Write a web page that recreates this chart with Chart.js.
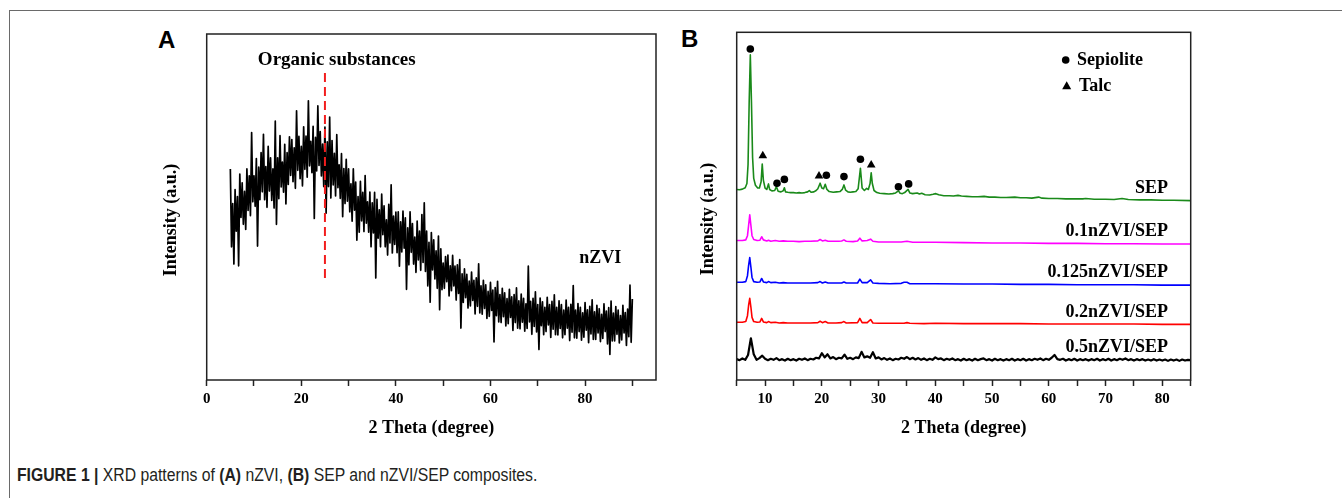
<!DOCTYPE html>
<html>
<head>
<meta charset="utf-8">
<script src="https://cdn.jsdelivr.net/npm/chart.js@4.4.1/dist/chart.umd.min.js"></script>
<style>
  html, body { margin: 0; padding: 0; background: #fff; }
  #page { position: relative; width: 1342px; height: 498px; overflow: hidden; background: #fff; }
  #frame { position: absolute; left: 9px; top: 10px; right: -2px; bottom: -2px;
           border-top: 1px solid #6a6a6a; border-left: 1px solid #6a6a6a; }
  .panel { position: absolute; font: bold 24px "Liberation Sans", Arial, sans-serif; line-height: 24px; color: #000; }
  .wrap { position: absolute; top: 20px; width: 530px; height: 430px; }
  #caption { position: absolute; left: 17px; top: 466px; font: 17.5px "Liberation Sans", Arial, sans-serif;
             line-height: 18px; white-space: nowrap; color: #231f20;
             transform: scaleX(0.9); transform-origin: 0 0; }
</style>
</head>
<body>
<div id="page">
  <div id="frame"></div>
  <div class="panel" style="left:158px; top:28px;">A</div>
  <div class="panel" style="left:681px; top:27px;">B</div>
  <div class="wrap" style="left:140px;"><canvas id="chartA" width="530" height="430"></canvas></div>
  <div class="wrap" style="left:680px;"><canvas id="chartB" width="530" height="430"></canvas></div>
  <div id="caption"><b>FIGURE 1 |</b> XRD patterns of <b>(A)</b> nZVI, <b>(B)</b> SEP and nZVI/SEP composites.</div>
</div>

<script>
// ---- Panel A: nZVI, scan 5-90 deg, 0.25 deg step (a.u.)
const thetaStartA = 5;
const thetaStepA = 0.25;
const nzviCounts = [
  610, 385, 510, 335,  550, 430, 530, 330,  595, 470, 570, 450,  545, 435, 610, 490,
  590, 475, 715, 515,  590, 502, 640, 387,  615, 521, 657, 544,  710, 521, 617, 499,
  675, 546, 642, 519,  610, 497, 748, 450,  642, 524, 706, 558,  630, 543, 681, 509,
  657, 565, 703, 591,  695, 573, 671, 554,  778, 606, 704, 582,  675, 561, 732, 609,
  705, 586, 807, 619,  690, 599, 733, 467,  701, 604, 792, 620,  718, 590, 682, 559,
  731, 482, 688, 559,  760, 526, 692, 564,  655, 532, 709, 556,  622, 525, 654, 472,
  611, 510, 638, 517,  610, 486, 567, 459,  610, 491, 572, 404,  530, 427, 574, 460,
  542, 429, 591, 453,  515, 427, 543, 385,  512, 425, 542, 295,  522, 410, 492, 385,
  537, 420, 503, 385,  463, 361, 508, 396,  564, 367, 474, 392,  485, 368, 486, 329,
  457, 370, 488, 381,  469, 262, 440, 333,  486, 369, 452, 335,  413, 311, 459, 347,
  430, 317, 478, 340,  512, 314, 430, 272,  398, 225, 426, 318,  405, 292, 373, 265,
  416, 203, 379, 261,  338, 265, 357, 284,  361, 243, 330, 258,  360, 272, 329, 231,
  333, 250, 348, 150,  307, 224, 321, 238,  305, 208, 286, 214,  312, 230, 288, 191,
  295, 213, 336, 194,  272, 190, 288, 207,  275, 178, 256, 184,  282, 201, 260, 110,
  267, 186, 285, 168,  247, 166, 265, 183,  252, 156, 235, 163,  262, 181, 240, 143,
  247, 166, 266, 150,  229, 148, 248, 167,  236, 141, 220, 149,  329, 168, 227, 132,
  236, 155, 255, 139,  218, 88, 237, 157,   226, 131, 210, 140,  239, 159, 218, 123,
  227, 147, 246, 131,  210, 130, 229, 149,  218, 122, 202, 131,  231, 150, 210, 114,
  219, 138, 273, 122,  202, 121, 221, 140,  210, 115, 194, 124,  224, 144, 203, 108,
  213, 133, 232, 117,  197, 117, 216, 136,  206, 111, 190, 120,  220, 140, 199, 104,
  209, 74, 228, 113,   193, 113, 212, 132,  202, 107, 186, 116,  216, 136, 195, 100,
  205, 125, 274, 109,
  234
];
// dashed marker for organic substances
const organicTheta = 25;
const organicSpan = [295, 888];

// ---- Panel B: stacked patterns as plotted [2theta, intensity]
const sepPattern = [
  [5, 548], [5.5, 547], [6, 549], [6.5, 553], [6.8, 565], [7.0, 620], [7.2, 800], [7.4, 935], [7.6, 800],
  [7.8, 640], [8.0, 580], [8.3, 560], [8.7, 552], [9.0, 552], [9.3, 570], [9.5, 621], [9.7, 575], [10.0, 552],
  [10.3, 548], [10.6, 564], [10.8, 548], [11.2, 544], [11.7, 545], [12.0, 556], [12.3, 543], [12.8, 541],
  [13.2, 544], [13.4, 553], [13.6, 541], [14.0, 540], [14.5, 539], [15, 539], [15.5, 538], [16, 539],
  [16.5, 538], [17, 539], [17.5, 541], [17.8, 545], [18.1, 540], [18.6, 541], [19.0, 545], [19.3, 550],
  [19.7, 566], [20.0, 552], [20.3, 550], [20.6, 563], [20.9, 548], [21.3, 542], [22, 540], [22.6, 541],
  [23.2, 542], [23.6, 548], [23.9, 561], [24.2, 546], [24.6, 541], [25.0, 540], [25.5, 541], [26.0, 542],
  [26.4, 550], [26.8, 609], [27.1, 552], [27.5, 545], [27.9, 551], [28.2, 548], [28.5, 565], [28.7, 596],
  [28.9, 565], [29.2, 545], [29.7, 539], [30.2, 537], [31, 536], [31.8, 535], [32.5, 536], [33.0, 538],
  [33.5, 544], [33.8, 537], [34.2, 536], [34.6, 539], [35.2, 548], [35.5, 538], [36.0, 536], [36.8, 538],
  [37.2, 535], [37.6, 537], [38.2, 533], [39.0, 532], [39.6, 534], [40.1, 536], [40.6, 533], [41.5, 530],
  [42.5, 530], [43.2, 529], [44.0, 531], [44.6, 529], [45.5, 528], [46.5, 527], [47.5, 527], [48.6, 528],
  [49.5, 526], [50.5, 526], [51.5, 525], [52.5, 525], [54.0, 526], [55.0, 524], [56.0, 524], [57.0, 523],
  [58.2, 526], [58.8, 523], [60.0, 522], [61.5, 522], [63.0, 521], [64.5, 521], [66.0, 521], [66.5, 522],
  [68.0, 520], [70.0, 520], [71.5, 519], [72.9, 522], [74.0, 519], [76.0, 518], [78.0, 518], [80.0, 517],
  [82.0, 517], [85, 516]
];
const nzvi01Pattern = [
  [5, 401], [6, 401], [6.6, 403], [6.9, 415], [7.1, 445], [7.3, 475], [7.5, 445], [7.7, 415], [8.0, 404],
  [8.6, 401], [9.1, 402], [9.4, 412], [9.7, 403], [10.3, 400], [10.6, 402], [11.0, 399], [11.8, 401],
  [12.5, 399], [13.2, 400], [14, 399], [15, 399], [16, 398], [17, 399], [18, 399], [19.3, 400], [19.7, 404],
  [20.1, 400], [20.6, 402], [21.1, 399], [22, 399], [23, 399], [23.5, 400], [23.9, 403], [24.3, 399],
  [25.5, 398], [26.3, 400], [26.7, 408], [27.1, 400], [28.0, 401], [28.6, 405], [29.0, 399], [30, 397],
  [32, 397], [34, 397], [35.0, 399], [36, 396], [38, 396], [40, 396], [45, 395], [50, 394], [55, 394],
  [60, 393], [65, 393], [70, 392], [75, 392], [80, 391], [85, 391]
];
const nzvi0125Pattern = [
  [5, 281], [6, 281], [6.6, 283], [6.9, 300], [7.1, 330], [7.3, 352], [7.5, 325], [7.7, 295], [8.0, 283],
  [8.6, 281], [9.1, 282], [9.4, 292], [9.7, 282], [10.3, 280], [10.6, 283], [11.0, 280], [11.8, 281],
  [12.5, 279], [13.2, 280], [14, 279], [16, 279], [18, 279], [19.3, 280], [19.7, 283], [20.1, 279],
  [20.6, 282], [21.1, 279], [22.5, 279], [23.5, 279], [23.9, 282], [24.3, 279], [26.3, 279], [26.7, 290],
  [27.1, 280], [28.0, 280], [28.6, 288], [29.0, 279], [30, 278], [32, 277], [34.0, 278], [34.5, 281],
  [35.0, 281], [35.5, 277], [38, 277], [40, 277], [45, 276], [50, 276], [55, 275], [60, 275], [65, 274],
  [70, 274], [75, 274], [80, 273], [85, 273]
];
const nzvi02Pattern = [
  [5, 166], [6, 166], [6.6, 168], [6.9, 185], [7.1, 215], [7.3, 235], [7.5, 210], [7.7, 180], [8.0, 168],
  [8.6, 166], [9.1, 167], [9.4, 177], [9.7, 167], [10.3, 165], [10.6, 168], [11.0, 165], [11.8, 166],
  [12.5, 164], [13.2, 165], [14, 164], [16, 164], [18, 164], [19.3, 165], [19.7, 169], [20.1, 165],
  [20.6, 168], [21.1, 164], [22.5, 164], [23.5, 165], [23.9, 168], [24.3, 164], [26.3, 165], [26.7, 177],
  [27.1, 165], [28.0, 165], [28.6, 174], [29.0, 164], [30, 163], [32, 163], [34.5, 163], [35.0, 165],
  [35.5, 163], [38, 162], [40, 163], [45, 162], [50, 162], [55, 162], [60, 161], [65, 161], [70, 161],
  [75, 161], [80, 160], [85, 160]
];
// 0.5nZVI/SEP: noisy scan, 0.5 deg step from 5 to 85
const thetaStart05 = 5;
const thetaStep05 = 0.5;
const nzvi05Counts = [
  60, 57, 62, 58, 72, 120, 74, 58, 63, 70,
  61, 57, 61, 58, 63, 57, 60, 56, 61, 57,
  60, 56, 61, 58, 62, 57, 61, 59, 64, 62,
  77, 65, 74, 62, 66, 60, 64, 62, 73, 61,
  64, 60, 65, 63, 81, 65, 68, 64, 80, 62,
  65, 59, 63, 58, 62, 57, 61, 59, 64, 61,
  66, 60, 64, 59, 63, 58, 62, 57, 61, 58,
  65, 60, 62, 57, 61, 58, 62, 57, 60, 56,
  61, 57, 60, 56, 61, 57, 60, 62, 57, 60,
  56, 61, 57, 60, 56, 60, 57, 61, 56, 60,
  57, 61, 56, 60, 57, 61, 58, 62, 57, 61,
  58, 64, 72, 60, 58, 61, 56, 60, 57, 61,
  56, 60, 57, 60, 56, 60, 57, 61, 56, 60,
  57, 61, 56, 60, 57, 61, 58, 62, 57, 60,
  56, 60, 57, 60, 56, 59, 56, 60, 56, 59,
  56, 59, 55, 59, 56, 59, 55, 59, 56, 58,
  57
];
// peak assignments (2theta, marker height)
const sepioliteMarks = [[7.4, 952], [12.1, 566], [13.4, 577], [20.8, 589], [23.9, 585], [26.8, 635], [33.5, 556], [35.3, 564]];
const talcMarks = [[9.6, 645], [19.5, 587], [28.7, 618]];

const seriesNamesB = ['SEP', '0.1nZVI/SEP', '0.125nZVI/SEP', '0.2nZVI/SEP', '0.5nZVI/SEP'];
const seriesColorsB = ['#1a8a1a', '#ff00ff', '#0000ff', '#ff0000', '#000000'];
const tickLabelsA = [0, 20, 40, 60, 80];
const tickLabelsB = [10, 20, 30, 40, 50, 60, 70, 80];

// ---- build point lists
const nzviPoints = nzviCounts.map((v, i) => ({ x: thetaStartA + i * thetaStepA, y: v }));
const nzvi05Points = nzvi05Counts.map((v, i) => ({ x: thetaStart05 + i * thetaStep05, y: v }));
const toXY = arr => arr.map(p => ({ x: p[0], y: p[1] }));
const patternsB = [toXY(sepPattern), toXY(nzvi01Pattern), toXY(nzvi0125Pattern), toXY(nzvi02Pattern), nzvi05Points];

const SERIF = '"Liberation Serif", "Times New Roman", serif';
Chart.defaults.font.family = SERIF;
Chart.defaults.color = '#000';

// box around the plot area
const framePlugin = {
  id: 'frame',
  afterDraw(chart) {
    const { ctx, chartArea: a } = chart;
    ctx.save();
    ctx.strokeStyle = '#222';
    ctx.lineWidth = 1.5;
    ctx.strokeRect(a.left, a.top, a.right - a.left, a.bottom - a.top);
    ctx.restore();
  }
};

function yTitle(x, y) {
  return {
    id: 'yTitle',
    afterDraw(chart) {
      const ctx = chart.ctx;
      ctx.save();
      ctx.translate(x, y);
      ctx.rotate(-Math.PI / 2);
      ctx.font = 'bold 18px ' + SERIF;
      ctx.fillStyle = '#000';
      ctx.textAlign = 'center';
      ctx.textBaseline = 'middle';
      ctx.fillText('Intensity (a.u.)', 0, 0);
      ctx.restore();
    }
  };
}

function axisOptions(min, max, step, labels, yWidth) {
  return {
    x: {
      type: 'linear', min: min, max: max,
      ticks: {
        stepSize: step, includeBounds: false, autoSkip: false, maxRotation: 0, padding: 4,
        font: { size: 15, weight: 'bold' }, color: '#000',
        callback: v => labels.includes(v) ? String(v) : ''
      },
      grid: { display: true, drawOnChartArea: false, drawTicks: true, tickLength: 6, tickWidth: 1.5, tickColor: '#222' },
      border: { display: false },
      title: { display: true, text: '2 Theta (degree)', color: '#000',
               font: { size: 18, weight: 'bold' }, padding: { top: 0, bottom: 11 } },
      afterFit: s => { s.height = 70; }
    },
    y: {
      min: 0, max: 1000,
      ticks: { display: false },
      grid: { display: false },
      border: { display: false },
      afterFit: s => { s.width = yWidth; }
    }
  };
}

// ---- Chart A
const labelsA = {
  id: 'labelsA',
  afterDatasetsDraw(chart) {
    const { ctx, scales } = chart;
    ctx.save();
    ctx.fillStyle = '#000';
    ctx.textAlign = 'center';
    ctx.textBaseline = 'middle';
    ctx.font = 'bold 19px ' + SERIF;
    ctx.fillText('Organic substances', scales.x.getPixelForValue(27.5), scales.y.getPixelForValue(925));
    ctx.font = 'bold 18px ' + SERIF;
    ctx.fillText('nZVI', scales.x.getPixelForValue(83.2), scales.y.getPixelForValue(353));
    ctx.restore();
  }
};

new Chart(document.getElementById('chartA'), {
  type: 'line',
  data: {
    datasets: [
      { data: [{ x: organicTheta, y: organicSpan[0] }, { x: organicTheta, y: organicSpan[1] }],
        borderColor: '#f21d1d', borderWidth: 2, borderDash: [9, 5], pointRadius: 0 },
      { data: nzviPoints, borderColor: '#000', borderWidth: 1.7, pointRadius: 0,
        borderJoinStyle: 'round', tension: 0 }
    ]
  },
  options: {
    responsive: false, animation: false, events: [],
    plugins: { legend: { display: false }, tooltip: { enabled: false } },
    layout: { padding: { left: 0, top: 14, right: 14, bottom: 0 } },
    scales: axisOptions(0, 95, 10, tickLabelsA, 66.7)
  },
  plugins: [framePlugin, yTitle(31, 200), labelsA]
});

// ---- Chart B
const labelsB = {
  id: 'labelsB',
  afterDatasetsDraw(chart) {
    const { ctx, scales, chartArea: a } = chart;
    ctx.save();
    ctx.fillStyle = '#000';
    ctx.font = 'bold 18px ' + SERIF;
    ctx.textAlign = 'right';
    ctx.textBaseline = 'middle';
    patternsB.forEach((pts, i) => {
      const last = pts[pts.length - 1];
      ctx.fillText(seriesNamesB[i], a.right - 22.7, scales.y.getPixelForValue(last.y) - 12.5);
    });
    // legend
    ctx.textAlign = 'left';
    ctx.beginPath();
    ctx.arc(a.left + 329, a.top + 27.7, 3.8, 0, Math.PI * 2);
    ctx.fill();
    ctx.fillText('Sepiolite', a.left + 340.3, a.top + 28);
    const tx = a.left + 330, ty = a.top + 53.7;
    ctx.beginPath();
    ctx.moveTo(tx, ty - 4.8);
    ctx.lineTo(tx + 4.5, ty + 3.2);
    ctx.lineTo(tx - 4.5, ty + 3.2);
    ctx.closePath();
    ctx.fill();
    ctx.fillText('Talc', a.left + 342.3, a.top + 54);
    ctx.restore();
  }
};

const datasetsB = [
  { data: toXY(sepioliteMarks), showLine: false, pointStyle: 'circle', pointRadius: 3.8,
    pointBackgroundColor: '#000', pointBorderColor: '#000', pointBorderWidth: 0 },
  { data: toXY(talcMarks), showLine: false, pointStyle: 'triangle', pointRadius: 5,
    pointBackgroundColor: '#000', pointBorderColor: '#000', pointBorderWidth: 0 }
].concat(patternsB.map((pts, i) => ({
  data: pts, borderColor: seriesColorsB[i], borderWidth: i === 4 ? 2.2 : 1.6,
  pointRadius: 0, borderJoinStyle: 'round', tension: 0
})));

new Chart(document.getElementById('chartB'), {
  type: 'line',
  data: { datasets: datasetsB },
  options: {
    responsive: false, animation: false, events: [],
    plugins: { legend: { display: false }, tooltip: { enabled: false } },
    layout: { padding: { left: 0, top: 12.3, right: 19.3, bottom: 0 } },
    scales: axisOptions(5, 85, 5, tickLabelsB, 56.7)
  },
  plugins: [framePlugin, yTitle(28, 199), labelsB]
});
</script>
</body>
</html>
